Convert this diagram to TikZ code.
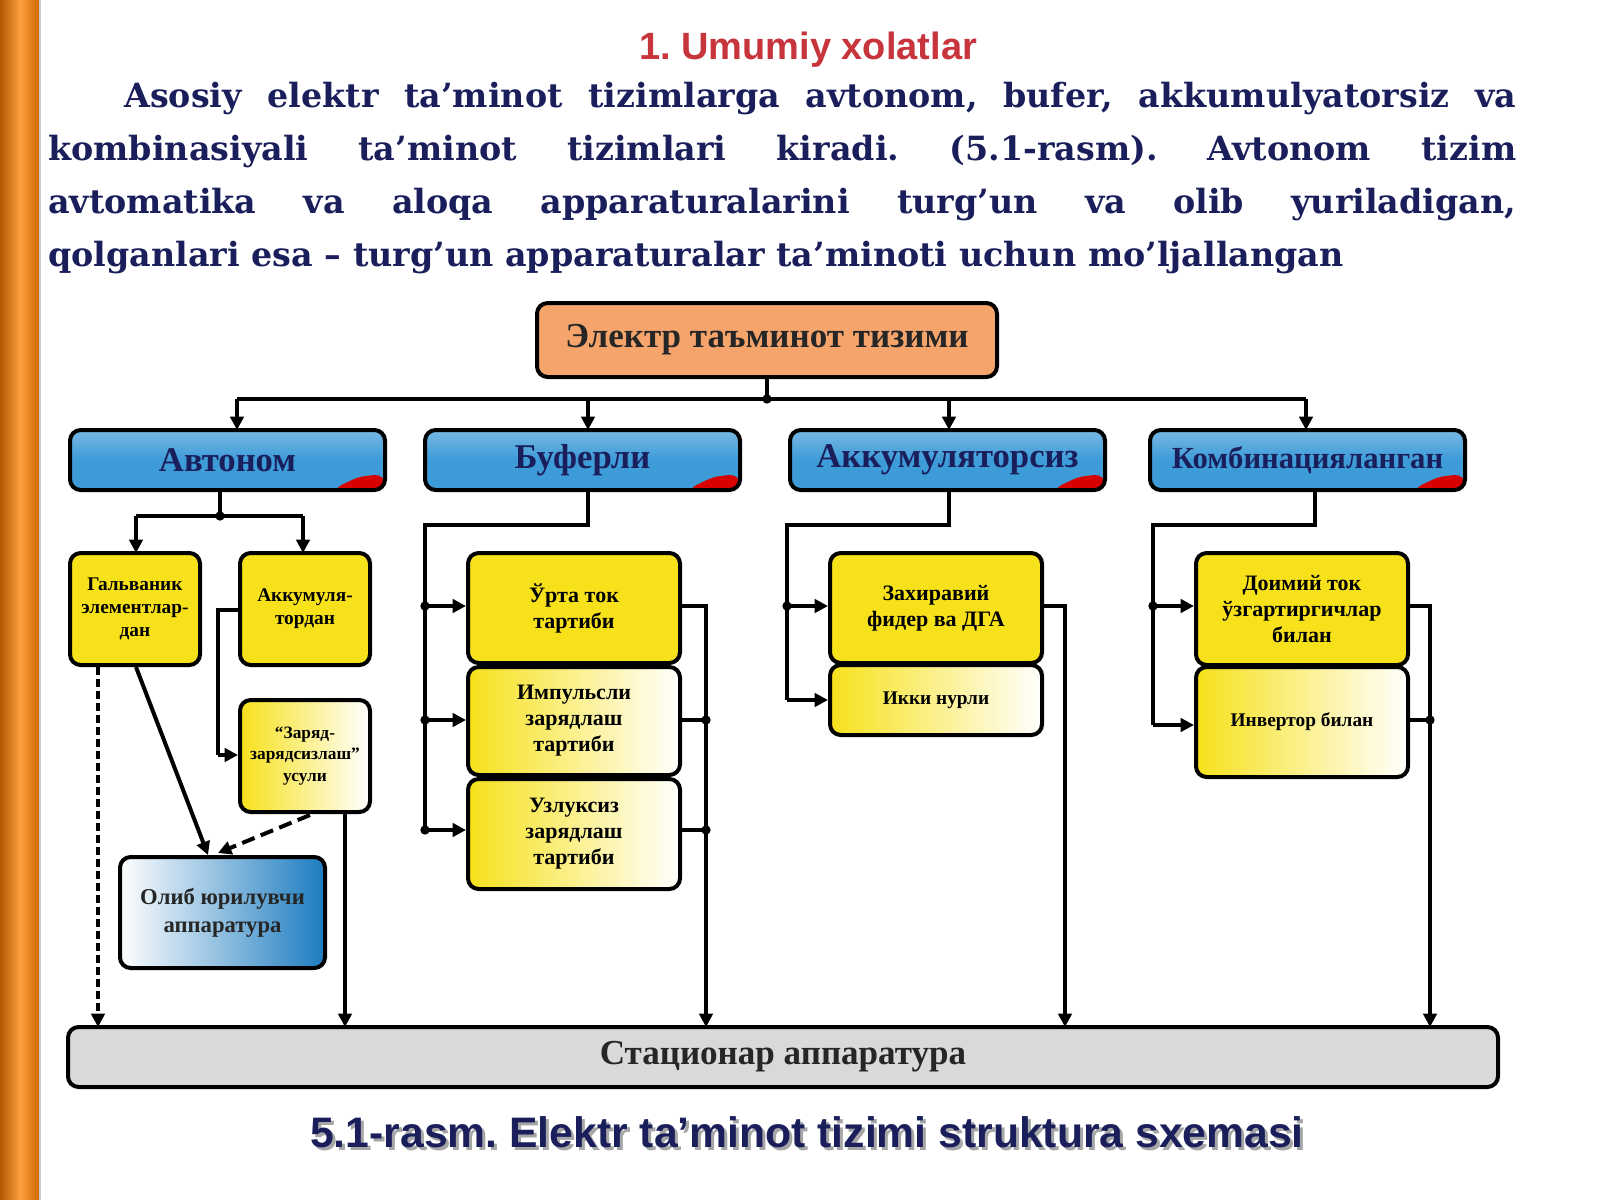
\documentclass[tikz,border=0pt]{standalone}
\usepackage{fontspec}
\setmainfont{Liberation Serif}
\newfontfamily\parafont{DejaVu Serif}
\newfontfamily\sansf{Liberation Sans}
\usetikzlibrary{arrows.meta,calc}
\definecolor{navy}{HTML}{1A1F5C}
\definecolor{ttl}{HTML}{C8343C}
\definecolor{yel}{HTML}{F7E11B}
\definecolor{blu}{HTML}{3D9BD8}
\definecolor{blud}{HTML}{1D7CC0}
\definecolor{org}{HTML}{F5A56C}
\definecolor{gry}{HTML}{D9D9D9}
\newcommand\bx[7]{\node[#6, minimum width={(#4-#2)*0.75pt}, minimum height={(#5-#3)*0.75pt}] (#1) at ({(#2+#4)/2},{(#3+#5)/2}) {#7};}
\frenchspacing
\begin{document}
\begin{tikzpicture}[x=0.75pt,y=-0.75pt,
  box/.style={draw=black,line width=3pt,rounded corners=8pt,inner sep=0pt,align=center,font=\bfseries},
  ybox/.style={box,fill=yel,font=\bfseries\fontsize{14.5}{17}\selectfont},
  gbox/.style={box,left color=yel,right color=white,font=\bfseries\fontsize{14.5}{17}\selectfont},
  bbox/.style={box,top color=blu!70!white,bottom color=blu,middle color=blu,text=navy,font=\bfseries\fontsize{26}{28}\selectfont,
    path picture={\fill[red!85!black] ([xshift=-40pt]path picture bounding box.south east) .. controls ([xshift=-20pt,yshift=10pt]path picture bounding box.south east) .. ([yshift=12pt]path picture bounding box.south east) -- (path picture bounding box.south east) -- cycle;}},
  ln/.style={line width=3pt},
  arr/.style={line width=3pt,-{Triangle[length=10pt,width=10pt]}},
  dot/.style={circle,fill=black,inner sep=0pt,minimum size=7pt}]
\useasboundingbox (0,0) rectangle (1600,1200);
\fill[white] (0,0) rectangle (1600,1200);
\shade[left color=orange!70!black,right color=orange!80!black,middle color=orange!75] (0,0) rectangle (40,1200);
\draw[gray!40,line width=1pt] (40,0) -- (40,1200);
% title
\node[text=ttl,font=\sansf\bfseries\fontsize{28.5}{32}\selectfont] (title) at (808,50) {1. Umumiy xolatlar};
\node[anchor=north west,inner sep=0pt,text width=1101pt,align=justify,text=navy,font=\parafont\bfseries\fontsize{25}{39.75}\selectfont] (para) at (48,82)
{\frenchspacing\parindent=57pt\indent Asosiy elektr ta’minot tizimlarga avtonom, bufer, akkumulyatorsiz va\linebreak
kombinasiyali ta’minot tizimlari kiradi. (5.1-rasm). Avtonom tizim\linebreak
avtomatika va aloqa apparaturalarini turg’un va olib yuriladigan,\linebreak
qolganlari esa – turg’un apparaturalar ta’minoti uchun mo’ljallangan\par};
% top
\bx{top}{537}{303}{997}{377}{box,fill=org,font=\bfseries\fontsize{26.3}{28}\selectfont,text=black!85}{Электр таъминот тизими}
\bx{avt}{70}{430}{385}{490}{bbox}{Автоном}
\bx{buf}{425}{430}{740}{490}{bbox}{Буферли}
\bx{akk}{790}{430}{1105}{490}{bbox}{Аккумуляторсиз}
\bx{kom}{1150}{430}{1465}{490}{bbox,font=\bfseries\fontsize{23}{25}\selectfont}{Комбинацияланган}
\draw[ln] (top.south) -- (767,399) node[dot]{};
\draw[ln] (237,399) -- (1306,399);
\foreach \x in {237,588,949,1306} \draw[arr] (\x,399) -- (\x,430);
% autonomous
\bx{gal}{70}{553}{200}{665}{ybox}{Гальваник\\элементлар-\\дан}
\bx{ak}{240}{553}{370}{665}{ybox}{Аккумуля-\\тордан}
\bx{zar}{240}{700}{370}{812}{gbox,font=\bfseries\fontsize{13}{16}\selectfont}{“Заряд-\\зарядсизлаш”\\усули}
\bx{olib}{120}{857}{325}{968}{box,left color=white,right color=blud,font=\bfseries\fontsize{17}{21}\selectfont,text=black!85}{Олиб юрилувчи\\аппаратура}
\bx{stat}{68}{1027}{1498}{1087}{box,fill=gry,font=\bfseries\fontsize{26.3}{28}\selectfont,text=black!85}{Стационар аппаратура}
\draw[ln] (avt.south -| 220,0) -- (220,516) node[dot]{};
\draw[ln] (136,516) -- (303,516);
\draw[arr] (136,516) -- (136,553);
\draw[arr] (303,516) -- (303,553);
\draw[ln] (ak.west |- 0,610) -- (218,610) -- (218,755);
\draw[arr] (218,755) -- (zar.west |- 0,755);
\draw[arr] (136,667) -- (208,855);
\draw[arr,dash pattern=on 10pt off 5pt] (310,815) -- (218,853);
\draw[arr,dash pattern=on 6pt off 3pt] (98,667) -- (98,1027);
\draw[arr] (345,812) -- (345,1027);
% buffer
\bx{b1}{468}{553}{680}{663}{ybox,font=\bfseries\fontsize{16.5}{19.5}\selectfont}{Ўрта ток\\тартиби}
\bx{b2}{468}{667}{680}{775}{gbox,font=\bfseries\fontsize{16.5}{19.5}\selectfont}{Импульсли\\зарядлаш\\тартиби}
\bx{b3}{468}{779}{680}{889}{gbox,font=\bfseries\fontsize{16.5}{19.5}\selectfont}{Узлуксиз\\зарядлаш\\тартиби}
\draw[ln] (buf.south -| 588,0) -- (588,525) -- (425,525) -- (425,830);
\foreach \y/\n in {606/b1,720/b2,830/b3}{\draw[arr] (425,\y) -- (\n.west |- 0,\y); \node[dot] at (425,\y){};}
\draw[ln] (b1.east |- 0,606) -- (706,606) -- (706,1000);
\draw[arr] (706,990) -- (706,1027);
\draw[ln] (b2.east |- 0,720) -- (706,720) node[dot]{};
\draw[ln] (b3.east |- 0,830) -- (706,830) node[dot]{};
% accumulatorless
\bx{a1}{830}{553}{1042}{663}{ybox,font=\bfseries\fontsize{16.5}{19.5}\selectfont}{Захиравий\\фидер ва ДГА}
\bx{a2}{830}{665}{1042}{735}{gbox}{Икки нурли}
\draw[ln] (akk.south -| 949,0) -- (949,525) -- (787,525) -- (787,700);
\draw[arr] (787,606) -- (a1.west |- 0,606); \node[dot] at (787,606){};
\draw[arr] (787,700) -- (a2.west |- 0,700);
\draw[ln] (a1.east |- 0,606) -- (1065,606) -- (1065,1000);
\draw[arr] (1065,990) -- (1065,1027);
% combined
\bx{k1}{1196}{553}{1408}{665}{ybox,font=\bfseries\fontsize{16.5}{19.5}\selectfont}{Доимий ток\\ўзгартиргичлар\\билан}
\bx{k2}{1196}{667}{1408}{777}{gbox}{Инвертор билан}
\draw[ln] (kom.south -| 1315,0) -- (1315,525) -- (1153,525) -- (1153,725);
\draw[arr] (1153,606) -- (k1.west |- 0,606); \node[dot] at (1153,606){};
\draw[arr] (1153,725) -- (k2.west |- 0,725);
\draw[ln] (k1.east |- 0,606) -- (1430,606) -- (1430,1000);
\draw[arr] (1430,990) -- (1430,1027);
\draw[ln] (k2.east |- 0,720) -- (1430,720) node[dot]{};
% caption
\node[text=gray!70,font=\sansf\bfseries\fontsize{32}{36}\selectfont] at (810,1135) {5.1-rasm. Elektr ta’minot tizimi struktura sxemasi};
\node[text=navy,font=\sansf\bfseries\fontsize{32}{36}\selectfont] (cap) at (807,1132) {5.1-rasm. Elektr ta’minot tizimi struktura sxemasi};
\end{tikzpicture}
\end{document}
